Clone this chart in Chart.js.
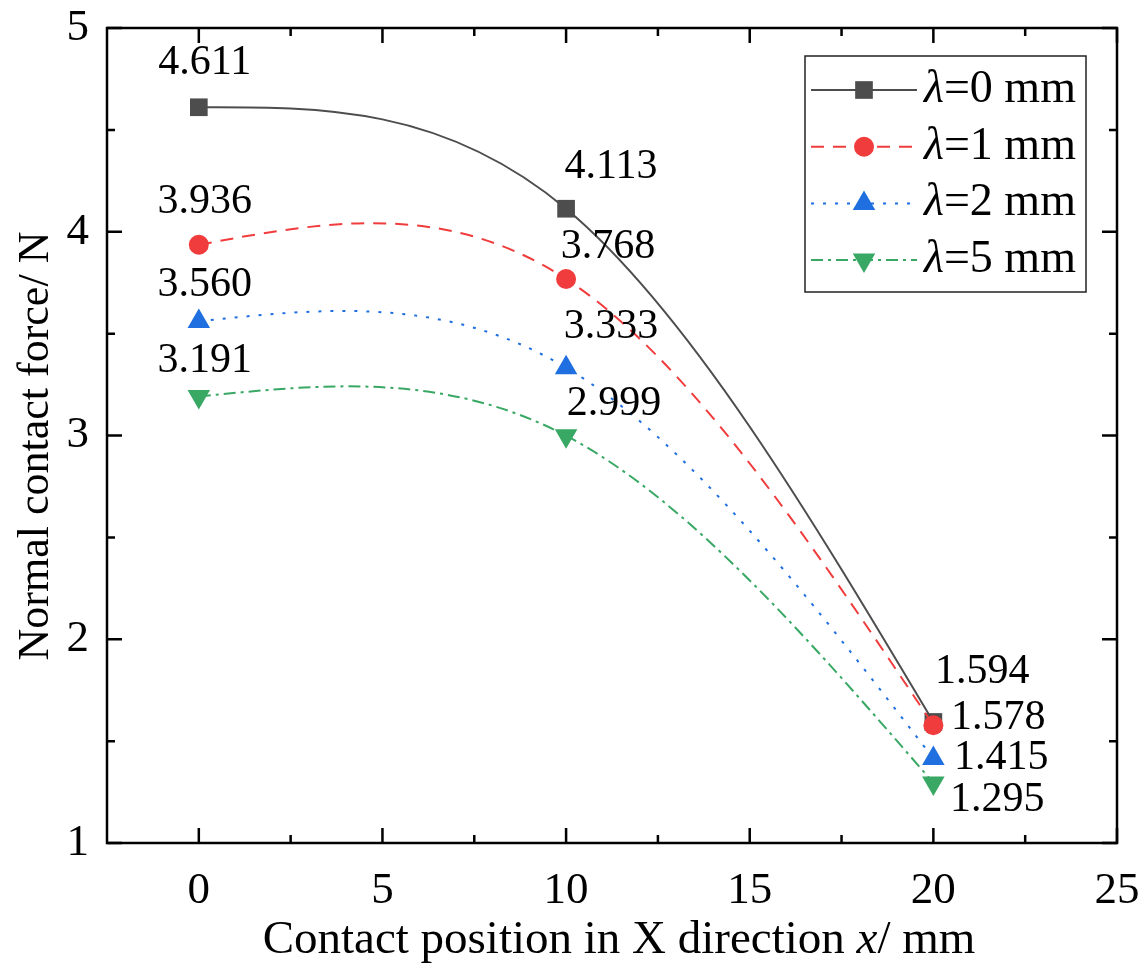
<!DOCTYPE html>
<html>
<head>
<meta charset="utf-8">
<script src="https://cdn.jsdelivr.net/npm/chart.js@4.4.1/dist/chart.umd.min.js"></script>
<style>
  html, body { margin: 0; padding: 0; background: #fff; }
  #wrap { width: 1146px; height: 973px; position: relative; }
</style>
</head>
<body>
<div id="wrap"><canvas id="c"></canvas></div>
<script>
/* data */
const xPos  = [0, 10, 20];
const lam0  = [4.611, 4.113, 1.594];
const lam1  = [3.936, 3.768, 1.578];
const lam2  = [3.560, 3.333, 1.415];
const lam5  = [3.191, 2.999, 1.295];
const lamNames = ['0', '1', '2', '5'];
const xTicks = [0, 5, 10, 15, 20, 25];
const yTicks = [1, 2, 3, 4, 5];
const xMinor = [2.5, 7.5, 12.5, 17.5, 22.5];
const yMinor = [1.5, 2.5, 3.5, 4.5];

const FONT = '"Liberation Serif", "Times New Roman", serif';
const colors = ['#4d4d4d', '#f03c3c', '#1f6fe0', '#38a864'];
const dashes = [[], [13, 9], [3, 9], [12, 5, 3, 5]];
const shapes = ['rect', 'circle', 'triangle', 'triangle'];
const radii  = [12.5, 10, 13, 13];
const rots   = [0, 0, 0, 180];
/* label offsets (px) from each point, per series */
const labelOff = [
  [[6, -44], [45, -42], [49, -50]],
  [[6, -43], [42, -32], [65, -7]],
  [[6, -36], [45, -41], [68, 0]],
  [[6, -36], [48, -32], [64, 17]]
];

const series = [lam0, lam1, lam2, lam5];

const datasets = series.map((vals, i) => ({
  label: 'λ=' + lamNames[i] + ' mm',
  data: vals.map((v, j) => ({ x: xPos[j], y: v })),
  borderColor: colors[i],
  backgroundColor: colors[i],
  borderWidth: 2,
  borderDash: dashes[i],
  pointStyle: shapes[i],
  pointRadius: radii[i],
  pointRotation: rots[i],
  pointBorderWidth: 0,
  pointBackgroundColor: colors[i],
  tension: 0.4,
  order: i === 0 ? 9 : i
}));

/* natural cubic spline slopes (data units), like Origin's spline connector */
function splineSlopes(xs, ys) {
  const n = xs.length, h = [], M = new Array(n).fill(0);
  for (let i = 0; i < n - 1; i++) h.push(xs[i + 1] - xs[i]);
  if (n > 2) {
    const a = [], b = [], c = [], d = [];
    for (let i = 1; i < n - 1; i++) {
      a.push(h[i - 1]); b.push(2 * (h[i - 1] + h[i])); c.push(h[i]);
      d.push(6 * ((ys[i + 1] - ys[i]) / h[i] - (ys[i] - ys[i - 1]) / h[i - 1]));
    }
    for (let i = 1; i < b.length; i++) {
      const m = a[i] / b[i - 1];
      b[i] -= m * c[i - 1]; d[i] -= m * d[i - 1];
    }
    for (let i = b.length - 1; i >= 0; i--) {
      M[i + 1] = (d[i] - (i < b.length - 1 ? c[i] * M[i + 2] : 0)) / b[i];
    }
  }
  const D = [];
  for (let i = 0; i < n - 1; i++) D.push((ys[i + 1] - ys[i]) / h[i] - h[i] * (2 * M[i] + M[i + 1]) / 6);
  D.push((ys[n - 1] - ys[n - 2]) / h[n - 2] + h[n - 2] * (M[n - 2] + 2 * M[n - 1]) / 6);
  return { D, h };
}

const spline = {
  id: 'spline',
  beforeDatasetDraw(chart, args) {
    const meta = args.meta, line = meta.dataset;
    if (!line) return;
    line.updateControlPoints(chart.chartArea, meta.indexAxis);
    const vals = series[args.index];
    const { D, h } = splineSlopes(xPos, vals);
    const sx = chart.scales.x, sy = chart.scales.y;
    meta.data.forEach((pt, j) => {
      if (j > 0) {
        pt.cp1x = sx.getPixelForValue(xPos[j] - h[j - 1] / 3);
        pt.cp1y = sy.getPixelForValue(vals[j] - D[j] * h[j - 1] / 3);
      }
      if (j < meta.data.length - 1) {
        pt.cp2x = sx.getPixelForValue(xPos[j] + h[j] / 3);
        pt.cp2y = sy.getPixelForValue(vals[j] + D[j] * h[j] / 3);
      }
    });
    delete line._path;
  }
};

function drawMarker(ctx, i, x, y) {
  Chart.helpers.drawPoint(ctx, { pointStyle: shapes[i], radius: radii[i], rotation: rots[i], borderWidth: 0 }, x, y);
}

const decor = {
  id: 'decor',
  afterDatasetsDraw(chart) {
    const { ctx, chartArea: a, scales: { x, y } } = chart;
    ctx.save();

    /* value labels */
    ctx.fillStyle = '#000';
    ctx.font = '42px ' + FONT;
    ctx.textAlign = 'center';
    ctx.textBaseline = 'middle';
    series.forEach((vals, i) => vals.forEach((v, j) => {
      const px = x.getPixelForValue(xPos[j]) + labelOff[i][j][0];
      const py = y.getPixelForValue(v) + labelOff[i][j][1];
      ctx.fillText(v.toFixed(3), px, py);
    }));

    /* frame and inward ticks */
    ctx.strokeStyle = '#000';
    ctx.lineWidth = 2.5;
    ctx.strokeRect(a.left, a.top, a.right - a.left, a.bottom - a.top);
    const tick = (vals, len, horiz) => vals.forEach(v => {
      ctx.beginPath();
      if (horiz) {
        const p = x.getPixelForValue(v);
        ctx.moveTo(p, a.bottom); ctx.lineTo(p, a.bottom - len);
        ctx.moveTo(p, a.top); ctx.lineTo(p, a.top + len);
      } else {
        const p = y.getPixelForValue(v);
        ctx.moveTo(a.left, p); ctx.lineTo(a.left + len, p);
        ctx.moveTo(a.right, p); ctx.lineTo(a.right - len, p);
      }
      ctx.stroke();
    });
    tick(xTicks, 15, true);
    tick(xMinor, 8, true);
    tick(yTicks, 15, false);
    tick(yMinor, 8, false);

    /* legend */
    const L = { x: 805, y: 56, w: 281, h: 236 };
    ctx.fillStyle = '#fff';
    ctx.fillRect(L.x, L.y, L.w, L.h);
    ctx.lineWidth = 1.5;
    ctx.strokeStyle = '#222';
    ctx.strokeRect(L.x, L.y, L.w, L.h);
    series.forEach((_, i) => {
      const ry = 90 + i * 56.7;
      ctx.strokeStyle = colors[i];
      ctx.fillStyle = colors[i];
      ctx.lineWidth = 2;
      ctx.setLineDash(dashes[i]);
      ctx.beginPath(); ctx.moveTo(811, ry); ctx.lineTo(917, ry); ctx.stroke();
      ctx.setLineDash([]);
      drawMarker(ctx, i, 864, ry);
      ctx.fillStyle = '#000';
      ctx.textAlign = 'left';
      ctx.font = 'italic 46px ' + FONT;
      ctx.fillText('λ', 924, ry);
      const w = ctx.measureText('λ').width;
      ctx.font = '46px ' + FONT;
      ctx.fillText('=' + lamNames[i] + ' mm', 924 + w, ry);
    });

    /* axis titles */
    ctx.fillStyle = '#000';
    ctx.textBaseline = 'middle';
    const parts = [['Contact position in X direction ', ''], ['x', 'italic '], ['/ mm', '']];
    let total = 0;
    parts.forEach(p => { ctx.font = p[1] + '47px ' + FONT; total += ctx.measureText(p[0]).width; });
    let cx = 619 - total / 2;
    ctx.textAlign = 'left';
    parts.forEach(p => { ctx.font = p[1] + '47px ' + FONT; ctx.fillText(p[0], cx, 941); cx += ctx.measureText(p[0]).width; });

    ctx.translate(36, 446);
    ctx.rotate(-Math.PI / 2);
    ctx.textAlign = 'center';
    ctx.font = '44px ' + FONT;
    ctx.fillText('Normal contact force/ N', 0, 0);
    ctx.restore();
  }
};

const noPad = s => { s.paddingTop = 0; s.paddingBottom = 0; s.paddingLeft = 0; s.paddingRight = 0; };

new Chart(document.getElementById('c'), {
  type: 'line',
  data: { datasets },
  options: {
    responsive: true,
    maintainAspectRatio: false,
    animation: false,
    layout: { padding: { top: 28, right: 29, left: 0, bottom: 0 } },
    plugins: { legend: { display: false }, tooltip: { enabled: false } },
    scales: {
      x: {
        type: 'linear', min: -2.5, max: 25,
        afterBuildTicks: s => { s.ticks = xTicks.map(v => ({ value: v })); },
        afterFit: s => { s.height = 130; noPad(s); },
        grid: { display: false, drawTicks: false },
        border: { display: false },
        ticks: { color: '#000', padding: 21, font: { family: FONT, size: 45 }, maxRotation: 0 }
      },
      y: {
        type: 'linear', min: 1, max: 5,
        afterBuildTicks: s => { s.ticks = yTicks.map(v => ({ value: v })); },
        afterFit: s => { s.width = 107; noPad(s); },
        grid: { display: false, drawTicks: false },
        border: { display: false },
        ticks: { color: '#000', padding: 18, font: { family: FONT, size: 45 } }
      }
    }
  },
  plugins: [spline, decor]
});
</script>
</body>
</html>
